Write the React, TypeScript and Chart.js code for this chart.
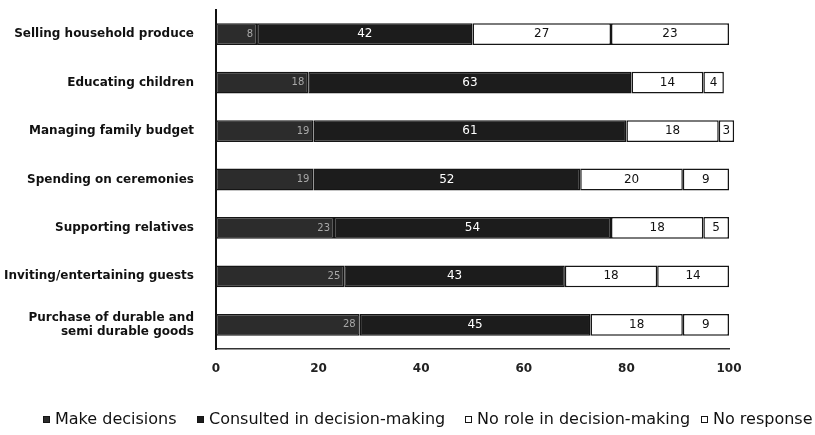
import React, { useEffect, useRef } from "react";
import { Chart, registerables } from "chart.js";

Chart.register(...registerables);

const categories: (string | string[])[] = [
  "Selling household produce",
  "Educating children",
  "Managing family budget",
  "Spending on ceremonies",
  "Supporting relatives",
  "Inviting/entertaining guests",
  ["Purchase of durable and", "semi durable goods"],
];

const seriesNames = [
  "Make decisions",
  "Consulted in decision-making",
  "No role in decision-making",
  "No response",
];

const makeDecisions = [8, 18, 19, 19, 23, 25, 28];
const consulted = [42, 63, 61, 52, 54, 43, 45];
const noRole = [27, 14, 18, 20, 18, 18, 18];
const noResponse = [23, 4, 3, 9, 5, 14, 9];

const xTicks = [0, 20, 40, 60, 80, 100];

const fills = ["#2c2c2c", "#1c1c1c", "#ffffff", "#ffffff"];
const labelColors = ["#a8a8a8", "#ffffff", "#111111", "#111111"];

const FONT = "'DejaVu Sans', Verdana, sans-serif";

const valueLabels = {
  id: "valueLabels",
  afterDatasetsDraw(chart: any) {
    const ctx = chart.ctx;
    chart.data.datasets.forEach((ds: any, di: number) => {
      const meta = chart.getDatasetMeta(di);
      meta.data.forEach((bar: any, i: number) => {
        const v = ds.data[i];
        const p = bar.getProps(["x", "y", "base"], true);
        ctx.save();
        ctx.fillStyle = labelColors[di];
        ctx.textBaseline = "middle";
        if (di === 0) {
          ctx.font = `10px ${FONT}`;
          ctx.textAlign = "right";
          ctx.fillText(String(v), p.x - 4, p.y);
        } else {
          ctx.font = `12px ${FONT}`;
          ctx.textAlign = "center";
          ctx.fillText(String(v), (p.x + p.base) / 2, p.y);
        }
        ctx.restore();
      });
    });
  },
};

const legendTextLeft = [55, 209, 477, 713];

export default function App() {
  const ref = useRef<HTMLCanvasElement | null>(null);

  useEffect(() => {
    if (!ref.current) return;
    const series = [makeDecisions, consulted, noRole, noResponse];
    const chart = new Chart(ref.current, {
      type: "bar",
      data: {
        labels: categories as any,
        datasets: series.map((d, i) => ({
          label: seriesNames[i],
          data: d,
          backgroundColor: fills[i],
          borderColor: "#151515",
          borderWidth: 1.5,
          borderSkipped: false,
          barPercentage: 0.9,
          categoryPercentage: 0.5,
          clip: false as any,
        })),
      },
      options: {
        indexAxis: "y",
        responsive: false,
        animation: false,
        layout: { padding: { left: 0, right: 86, top: 10, bottom: 56 } },
        plugins: {
          legend: { display: false },
          tooltip: { enabled: false },
        },
        scales: {
          x: {
            stacked: true,
            min: 0,
            max: 100,
            afterBuildTicks: (s: any) => {
              s.ticks = xTicks.map((v) => ({ value: v }));
            },
            afterFit: (s: any) => {
              s.height = 30;
              s.paddingLeft = 0;
              s.paddingRight = 0;
            },
            grid: { display: false },
            border: { display: true, color: "#333", width: 1.5 },
            ticks: {
              padding: 5,
              color: "#222",
              font: { family: FONT, size: 12, weight: "bold" },
            },
          },
          y: {
            stacked: true,
            afterFit: (s: any) => {
              s.width = 216;
              s.paddingTop = 0;
              s.paddingBottom = 0;
            },
            grid: { display: false },
            border: { display: true, color: "#111", width: 2 },
            ticks: {
              padding: 14,
              color: "#111",
              font: { family: FONT, size: 12, weight: "bold" },
            },
          },
        },
      },
      plugins: [valueLabels],
    });
    return () => chart.destroy();
  }, []);

  return (
    <div style={{ position: "absolute", left: 0, top: 0, width: 815, height: 435, background: "#fff" }}>
      <canvas ref={ref} width={815} height={435} style={{ display: "block" }} />
      {seriesNames.map((name, i) => (
        <div
          key={name}
          style={{
            position: "absolute",
            left: legendTextLeft[i] - 12,
            top: 410,
            display: "flex",
            alignItems: "center",
            fontFamily: FONT,
            fontSize: 16,
            color: "#111",
            whiteSpace: "nowrap",
            lineHeight: "18px",
          }}
        >
          <span
            style={{
              display: "inline-block",
              boxSizing: "border-box",
              width: 7,
              height: 7,
              marginRight: 5,
              background: i < 2 ? fills[i] : "#fff",
              border: "1.5px solid #151515",
            }}
          />
          {name}
        </div>
      ))}
    </div>
  );
}
